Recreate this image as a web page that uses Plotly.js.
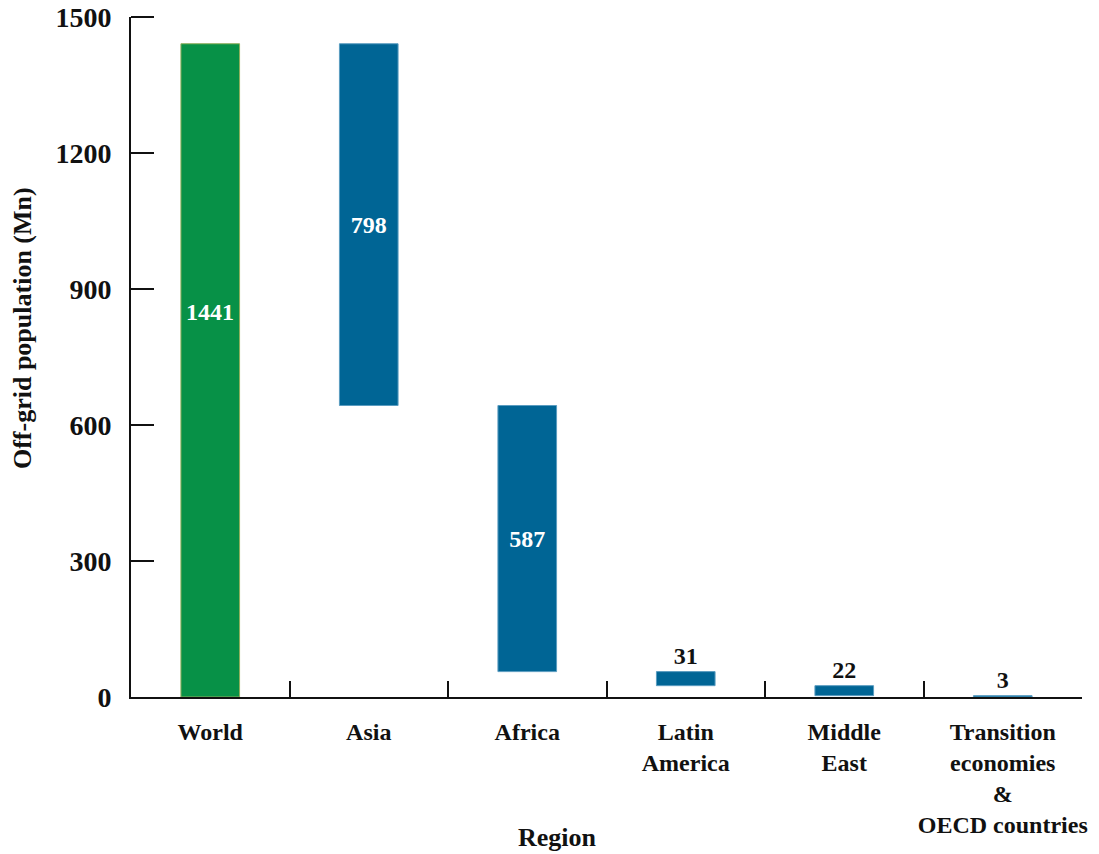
<!DOCTYPE html>
<html>
<head>
<meta charset="utf-8">
<script src="https://cdn.plot.ly/plotly-3.0.1.min.js"></script>
<style>html,body{margin:0;padding:0;background:#fff;}#chart{width:1099px;height:854px;}</style>
</head>
<body>
<div id="chart"></div>
<script>
const regions = ["World", "Asia", "Africa", "Latin<br>America", "Middle<br>East", "Transition<br>economies<br>&<br>OECD countries"];
const values = [1441, 798, 587, 31, 22, 3];
const yTicks = [0, 300, 600, 900, 1200, 1500];

// waterfall bases: World from 0, each region hangs down from the remaining total
const bases = [0];
let remaining = values[0];
for (let i = 1; i < values.length; i++) {
  remaining -= values[i];
  bases.push(remaining);
}

const colors = values.map((v, i) => i === 0 ? "#079147" : "#006595");
const edges = values.map((v, i) => i === 0 ? "#8fae5a" : "#5a9cc0");
const textPos = values.map((v, i) => i === 0 ? "none" : (v > 100 ? "inside" : "outside"));
const texts = values.map((v, i) => i === 0 ? "" : String(v));
const textColors = values.map(v => v > 100 ? "#ffffff" : "#111111");

const serif = "Liberation Serif, Times New Roman, serif";

const trace = {
  type: "bar",
  x: regions,
  y: values,
  base: bases,
  width: 0.37,
  marker: {color: colors, line: {color: edges, width: 1}},
  text: texts,
  textposition: textPos,
  insidetextanchor: "middle",
  textangle: 0,
  cliponaxis: false,
  textfont: {family: serif, size: 24, color: textColors, weight: "bold"},
  hoverinfo: "skip"
};

const layout = {
  width: 1099,
  height: 854,
  margin: {l: 131, r: 17, t: 17, b: 157},
  paper_bgcolor: "#ffffff",
  plot_bgcolor: "#ffffff",
  showlegend: false,
  font: {family: serif, color: "#111111"},
  xaxis: {
    type: "category",
    range: [-0.5, 5.5],
    showline: true, linecolor: "#111111", linewidth: 2,
    ticks: "inside", tickson: "boundaries", ticklen: 16, tickwidth: 2, tickcolor: "#111111",
    showgrid: false, zeroline: false,
    tickangle: 0,
    tickfont: {family: serif, size: 24, color: "#111111", weight: "bold"},
    ticklabelstandoff: 12
  },
  yaxis: {
    range: [0, 1500],
    tickvals: yTicks,
    ticktext: yTicks.map(String),
    showline: true, linecolor: "#111111", linewidth: 2,
    ticks: "inside", ticklen: 23, tickwidth: 2, tickcolor: "#111111",
    showgrid: false, zeroline: false,
    tickfont: {family: serif, size: 28, color: "#111111", weight: "bold"},
    ticklabelstandoff: 12
  },
  shapes: [
    // top inside tick of the y axis (axis end cap)
    {type: "line", xref: "paper", yref: "paper", x0: 0, x1: 0.0242, y0: 1, y1: 1,
     line: {color: "#111111", width: 2}}
  ],
  annotations: [
    {text: String(values[0]), x: regions[0], y: 850, xref: "x", yref: "y", showarrow: false,
     font: {family: serif, size: 24, color: "#ffffff", weight: "bold"}},
    {text: "<b>Region</b>", xref: "paper", yref: "paper", x: 0.449, y: -0.207,
     xanchor: "center", yanchor: "middle", showarrow: false,
     font: {family: serif, size: 26, color: "#111111"}},
    {text: "<b>Off-grid population (Mn)</b>", xref: "paper", yref: "paper", x: -0.114, y: 0.542,
     xanchor: "center", yanchor: "middle", textangle: -90, showarrow: false,
     font: {family: serif, size: 26, color: "#111111"}}
  ]
};

Plotly.newPlot("chart", [trace], layout, {displayModeBar: false, staticPlot: true});
</script>
</body>
</html>
